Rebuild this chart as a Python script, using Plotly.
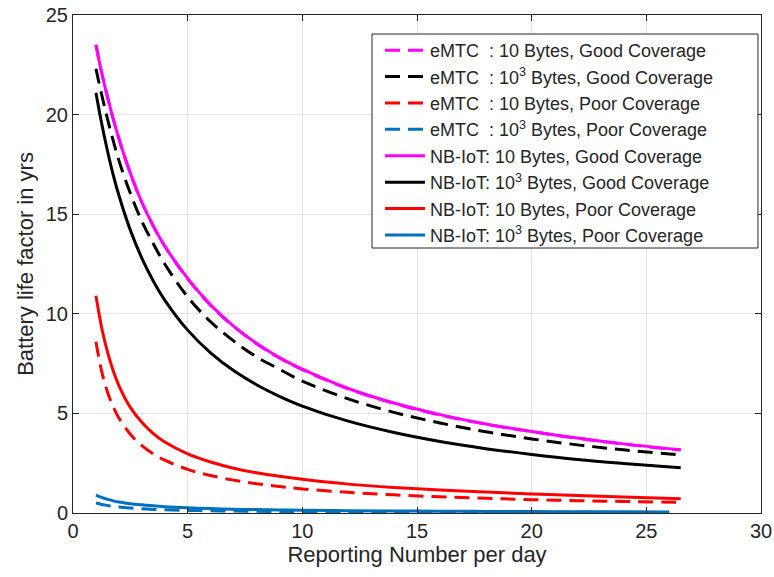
import plotly.graph_objects as go

# Reporting number per day
X = [1, 1.25, 1.5, 1.75, 2, 2.5, 3, 3.5, 4, 5, 6, 7, 8, 9, 10, 12, 14, 16, 18, 20, 22, 24, 26.5]
X_BLUE = [1, 1.25, 1.5, 1.75, 2, 2.5, 3, 3.5, 4, 5, 6, 7, 8, 9, 10, 12, 14, 16, 18, 20, 22, 24, 26]

# eMTC series
emtc_10_good = [23.5, 22.1, 20.9, 19.8, 18.8, 17.05, 15.6, 14.41, 13.4, 11.75, 10.42, 9.37,
                8.5, 7.78, 7.2, 6.23, 5.5, 4.92, 4.46, 4.08, 3.75, 3.46, 3.16]
emtc_1e3_good = [22.3, 21.0, 19.8, 18.71, 17.7, 16.05, 14.65, 13.52, 12.5, 10.85, 9.6, 8.64,
                 7.84, 7.22, 6.62, 5.73, 5.05, 4.52, 4.08, 3.72, 3.42, 3.17, 2.91]
emtc_10_poor = [8.6, 7.11, 6.09, 5.34, 4.77, 3.95, 3.38, 2.97, 2.65, 2.19, 1.88, 1.65,
                1.47, 1.33, 1.21, 1.04, 0.91, 0.81, 0.74, 0.67, 0.62, 0.58, 0.53]
emtc_1e3_poor = [0.5, 0.43, 0.38, 0.33, 0.3, 0.25, 0.21, 0.18, 0.16, 0.13, 0.11, 0.095,
                 0.085, 0.075, 0.068, 0.057, 0.05, 0.044, 0.04, 0.036, 0.033, 0.03, 0.028]

# NB-IoT series
nb_10_good = [23.5, 22.1, 20.9, 19.8, 18.8, 17.05, 15.6, 14.41, 13.4, 11.78, 10.45, 9.38,
              8.52, 7.8, 7.22, 6.25, 5.52, 4.94, 4.47, 4.09, 3.76, 3.47, 3.17]
nb_1e3_good = [21.1, 19.55, 18.2, 16.99, 15.95, 14.2, 12.8, 11.65, 10.69, 9.18, 8.04, 7.15,
               6.44, 5.86, 5.37, 4.61, 4.04, 3.59, 3.23, 2.94, 2.69, 2.49, 2.27]
nb_10_poor = [10.9, 9.3, 8.1, 7.15, 6.4, 5.3, 4.55, 3.98, 3.56, 2.97, 2.56, 2.25,
              2.02, 1.84, 1.69, 1.45, 1.28, 1.15, 1.05, 0.96, 0.88, 0.8, 0.72]
nb_1e3_poor = [0.9, 0.78, 0.69, 0.61, 0.55, 0.47, 0.41, 0.36, 0.32, 0.26, 0.22, 0.19,
               0.17, 0.15, 0.135, 0.115, 0.1, 0.09, 0.08, 0.07, 0.065, 0.06, 0.055]

NB = "\u00a0"
DASH = "15px,8px"
series = [
    ("eMTC" + NB + NB + ": 10 Bytes, Good Coverage", X, emtc_10_good, "#FF00FF", DASH),
    ("eMTC" + NB + NB + ": 10<sup>3</sup> Bytes, Good Coverage", X, emtc_1e3_good, "#000000", DASH),
    ("eMTC" + NB + NB + ": 10 Bytes, Poor Coverage", X, emtc_10_poor, "#FF0000", DASH),
    ("eMTC" + NB + NB + ": 10<sup>3</sup> Bytes, Poor Coverage", X_BLUE, emtc_1e3_poor, "#0072BD", DASH),
    ("NB-IoT: 10 Bytes, Good Coverage", X, nb_10_good, "#FF00FF", "solid"),
    ("NB-IoT: 10<sup>3</sup> Bytes, Good Coverage", X, nb_1e3_good, "#000000", "solid"),
    ("NB-IoT: 10 Bytes, Poor Coverage", X, nb_10_poor, "#FF0000", "solid"),
    ("NB-IoT: 10<sup>3</sup> Bytes, Poor Coverage", X_BLUE, nb_1e3_poor, "#0072BD", "solid"),
]

fig = go.Figure()
for name, xs, ys, color, dash in series:
    fig.add_trace(go.Scatter(
        x=xs, y=ys, mode="lines", name=name,
        line=dict(color=color, width=3, dash=dash, shape="spline", smoothing=1.0),
    ))

FONT = "Liberation Sans, Arial"
axis_common = dict(
    showline=True, linecolor="#262626", linewidth=1, mirror="allticks",
    ticks="inside", ticklen=6, tickcolor="#262626",
    showgrid=True, gridcolor="#E3E3E3", gridwidth=1,
    zeroline=False, automargin=False, ticklabeloverflow="allow",
    tickfont=dict(size=20, color="#262626", family=FONT),
    title_font=dict(size=22, color="#262626", family=FONT),
)

# legend frame (drawn as a shape so its size matches the reference box)
fig.add_shape(type="rect", xref="paper", yref="paper",
              x0=0.4346, x1=0.9956, y0=0.5321, y1=0.9618,
              line=dict(color="#262626", width=1), fillcolor="white", layer="above")

fig.update_layout(
    width=774, height=577,
    margin=dict(l=73, r=13, t=15, b=64),
    paper_bgcolor="white", plot_bgcolor="white",
    font=dict(family=FONT, color="#262626"),
    xaxis=dict(range=[0, 30], dtick=5, title_text="Reporting Number per day",
               title_standoff=0, **axis_common),
    yaxis=dict(range=[0, 25], dtick=5, title_text="Battery life factor in yrs",
               title_standoff=6, **axis_common),
    legend=dict(
        x=0.4462, y=0.966, xanchor="left", yanchor="top",
        bgcolor="rgba(0,0,0,0)", borderwidth=0,
        font=dict(size=18, color="#262626", family=FONT),
        itemwidth=40,
    ),
    showlegend=True,
)

# remove the browser's default 8px body margin so the figure fills the window
fig.write_html("out.html",
               config={"displayModeBar": False},
               post_script="document.body.style.margin='0';document.body.style.overflow='hidden';")
